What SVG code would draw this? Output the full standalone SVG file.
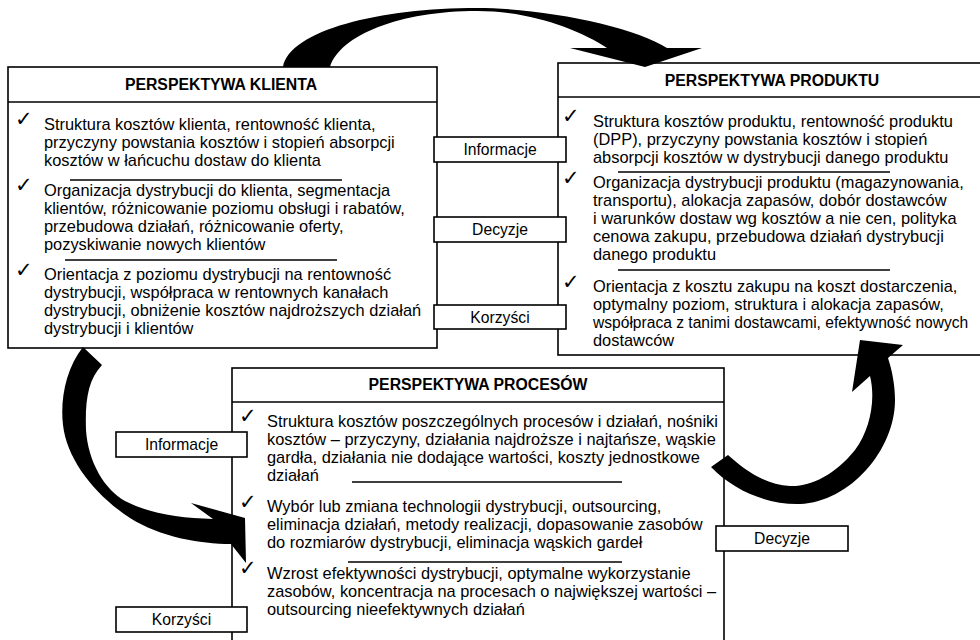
<svg xmlns="http://www.w3.org/2000/svg" width="980" height="640" viewBox="0 0 980 640">
<style>
.box{fill:#fff;stroke:#000;stroke-width:1.6}
.div{stroke:#000;stroke-width:1.6}
.sep{stroke:#000;stroke-width:1.3}
.hdr{font-family:"Liberation Sans",Arial,sans-serif;font-weight:bold;font-size:15.8px;text-anchor:middle;fill:#000}
.txt{font-family:"Liberation Sans",Arial,sans-serif;font-size:16.4px;fill:#000}
.chk{font-family:"DejaVu Sans",sans-serif;font-size:21px;fill:#000}
.lbl{font-family:"Liberation Sans",Arial,sans-serif;font-size:15.7px;text-anchor:middle;fill:#000}
.arr{fill:#000;stroke:none}
</style>
<rect width="980" height="640" fill="#fff"/>

<g id="klient">
<rect class="box" x="8" y="67" width="429" height="281"/>
<line class="div" x1="8" y1="102" x2="437" y2="102"/>
<text class="hdr" x="221" y="90">PERSPEKTYWA KLIENTA</text>
<text class="chk" x="15" y="126">✓</text>
<text class="txt" x="44" y="130">Struktura kosztów klienta, rentowność klienta,</text>
<text class="txt" x="44" y="148">przyczyny powstania kosztów i stopień absorpcji</text>
<text class="txt" x="44" y="166">kosztów w łańcuchu dostaw do klienta</text>
<line class="sep" x1="70" y1="180" x2="342" y2="180"/>
<text class="chk" x="15" y="192">✓</text>
<text class="txt" x="44" y="196">Organizacja dystrybucji do klienta, segmentacja</text>
<text class="txt" x="44" y="214">klientów, różnicowanie poziomu obsługi i rabatów,</text>
<text class="txt" x="44" y="232">przebudowa działań, różnicowanie oferty,</text>
<text class="txt" x="44" y="250">pozyskiwanie nowych klientów</text>
<line class="sep" x1="65" y1="260" x2="337" y2="260"/>
<text class="chk" x="15" y="277">✓</text>
<text class="txt" x="44" y="280">Orientacja z poziomu dystrybucji na rentowność</text>
<text class="txt" x="44" y="298">dystrybucji, współpraca w rentownych kanałach</text>
<text class="txt" x="44" y="316">dystrybucji, obniżenie kosztów najdroższych działań</text>
<text class="txt" x="44" y="334">dystrybucji i klientów</text>
</g>

<g id="produkt">
<rect class="box" x="558" y="63" width="440" height="292"/>
<line class="div" x1="558" y1="97" x2="980" y2="97"/>
<text class="hdr" x="772" y="86">PERSPEKTYWA PRODUKTU</text>
<text class="chk" x="562" y="123">✓</text>
<text class="txt" x="593" y="127">Struktura kosztów produktu, rentowność produktu</text>
<text class="txt" x="593" y="145">(DPP), przyczyny powstania kosztów i stopień</text>
<text class="txt" x="593" y="163">absorpcji kosztów w dystrybucji danego produktu</text>
<line class="sep" x1="618" y1="172" x2="890" y2="172"/>
<text class="chk" x="562" y="185">✓</text>
<text class="txt" x="593" y="188">Organizacja dystrybucji produktu (magazynowania,</text>
<text class="txt" x="593" y="206">transportu), alokacja zapasów, dobór dostawców</text>
<text class="txt" x="593" y="224">i warunków dostaw wg kosztów a nie cen, polityka</text>
<text class="txt" x="593" y="242">cenowa zakupu, przebudowa działań dystrybucji</text>
<text class="txt" x="593" y="260">danego produktu</text>
<line class="sep" x1="618" y1="270" x2="890" y2="270"/>
<text class="chk" x="562" y="289">✓</text>
<text class="txt" x="593" y="292">Orientacja z kosztu zakupu na koszt dostarczenia,</text>
<text class="txt" x="593" y="310">optymalny poziom, struktura i alokacja zapasów,</text>
<text class="txt" x="593" y="328" style="font-size:15.6px">współpraca z tanimi dostawcami, efektywność nowych</text>
<text class="txt" x="593" y="346">dostawców</text>
</g>

<g id="procesy">
<rect class="box" x="232" y="368" width="492" height="300"/>
<line class="div" x1="232" y1="402" x2="724" y2="402"/>
<text class="hdr" x="478" y="390">PERSPEKTYWA PROCESÓW</text>
<text class="chk" x="239" y="423">✓</text>
<text class="txt" x="267" y="427">Struktura kosztów poszczególnych procesów i działań, nośniki</text>
<text class="txt" x="267" y="445">kosztów – przyczyny, działania najdroższe i najtańsze, wąskie</text>
<text class="txt" x="267" y="463">gardła, działania nie dodające wartości, koszty jednostkowe</text>
<text class="txt" x="267" y="481">działań</text>
<line class="sep" x1="352" y1="482" x2="622" y2="482"/>
<text class="chk" x="239" y="509">✓</text>
<text class="txt" x="267" y="512">Wybór lub zmiana technologii dystrybucji, outsourcing,</text>
<text class="txt" x="267" y="530">eliminacja działań, metody realizacji, dopasowanie zasobów</text>
<text class="txt" x="267" y="548">do rozmiarów dystrybucji, eliminacja wąskich gardeł</text>
<line class="sep" x1="348" y1="562" x2="622" y2="562"/>
<text class="chk" x="239" y="575">✓</text>
<text class="txt" x="267" y="579">Wzrost efektywności dystrybucji, optymalne wykorzystanie</text>
<text class="txt" x="267" y="597">zasobów, koncentracja na procesach o największej wartości –</text>
<text class="txt" x="267" y="615">outsourcing nieefektywnych działań</text>
</g>

<g id="connectors">
<path class="arr" d="M283,67 C290,30 380,8 477,8 C545,8 635,27 667,48 L702,48 L645,67 L570,48 L607,48 C580,30 530,11 477,11 C400,11 340,35 330,67 Z"/>
<path class="arr" d="M83,347 C66,368 60,400 63,425 C67,460 95,495 130,518 C160,537 200,544 231,544 L246,563 L245,518 L191,503 L213,519 C180,518 150,514 125,501 C105,490 88,462 86,430 C85,400 88,380 102,365 Z"/>
<path class="arr" d="M711,467 C735,492 770,505 800,504 C850,502 895,450 895,400 C895,385 892,370 888,358 L903,345 L860,340 L852,392 L870,376 C876,400 870,430 855,450 C835,475 810,487 790,486 C765,485 745,470 728,455 Z"/>
</g>

<g id="lbl-informacje-top"><rect class="box" x="434" y="137" width="132" height="25"/><text class="lbl" x="500" y="155">Informacje</text></g>
<g id="lbl-decyzje-top"><rect class="box" x="434" y="217" width="132" height="25"/><text class="lbl" x="500" y="235">Decyzje</text></g>
<g id="lbl-korzysci-top"><rect class="box" x="434" y="305" width="132" height="24"/><text class="lbl" x="500" y="323">Korzyści</text></g>
<g id="lbl-informacje-left"><rect class="box" x="116" y="432" width="131" height="25"/><text class="lbl" x="181.5" y="450">Informacje</text></g>
<g id="lbl-korzysci-left"><rect class="box" x="116" y="607" width="131" height="25"/><text class="lbl" x="181.5" y="625">Korzyści</text></g>
<g id="lbl-decyzje-right"><rect class="box" x="716" y="526" width="132" height="25"/><text class="lbl" x="782" y="544">Decyzje</text></g>
</svg>
